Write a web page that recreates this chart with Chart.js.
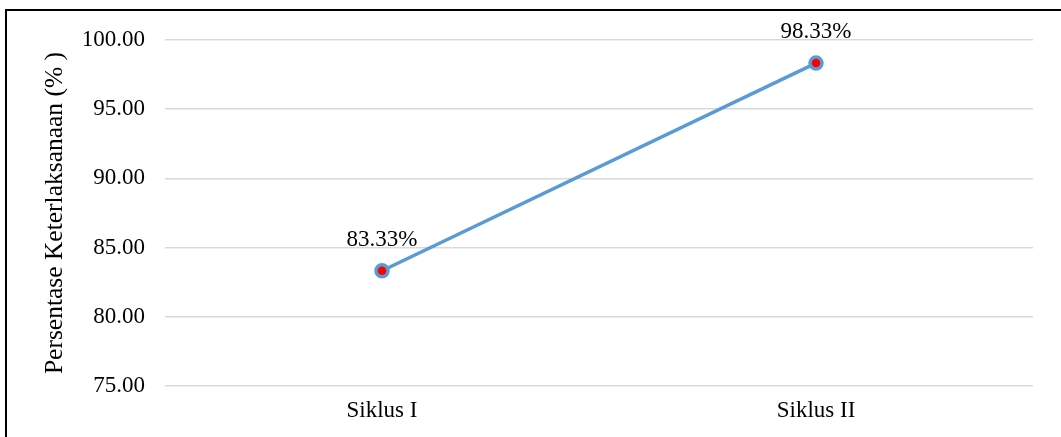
<!DOCTYPE html>
<html>
<head>
<meta charset="utf-8">
<script src="https://cdn.jsdelivr.net/npm/chart.js@4/dist/chart.umd.min.js"></script>
<style>
  html, body { margin: 0; padding: 0; background: #fff; overflow: hidden; }
  #wrap { position: relative; width: 1061px; height: 437px; }
  #frame { position: absolute; left: 5px; top: 9px; width: 1100px; height: 500px;
           border-top: 2px solid #000; border-left: 2px solid #000; pointer-events: none; }
  canvas { position: absolute; left: 0; top: 0; }
</style>
</head>
<body>
<div id="wrap">
  <canvas id="grafico" width="1061" height="437"></canvas>
  <div id="frame"></div>
</div>
<script>
// Data
const kategori = ['Siklus I', 'Siklus II'];
const nilai = [83.33, 98.33];
const yMin = 75, yMax = 100, yStep = 5;
const judulY = 'Persentase Keterlaksanaan (% )';

const fonte = '"Liberation Serif", "Times New Roman", serif';

// Label di atas titik
const labelTitik = {
  id: 'labelTitik',
  afterDatasetsDraw(chart) {
    const ctx = chart.ctx;
    const meta = chart.getDatasetMeta(0);
    ctx.save();
    ctx.font = '23px ' + fonte;
    ctx.fillStyle = '#000';
    ctx.textAlign = 'center';
    ctx.textBaseline = 'middle';
    meta.data.forEach((p, i) => {
      ctx.fillText(nilai[i].toFixed(2) + '%', p.x, p.y - 31);
    });
    ctx.restore();
  }
};

new Chart(document.getElementById('grafico'), {
  type: 'line',
  data: {
    labels: kategori,
    datasets: [{
      data: nilai,
      borderColor: '#5B9BD5',
      borderWidth: 3.5,
      backgroundColor: '#FF0000',
      pointBackgroundColor: '#FF0000',
      pointBorderColor: '#5B9BD5',
      pointBorderWidth: 3.5,
      pointRadius: 6,
      tension: 0
    }]
  },
  options: {
    responsive: false,
    animation: false,
    layout: { padding: { left: 40, right: 28, top: 40, bottom: 0 } },
    plugins: { legend: { display: false }, tooltip: { enabled: false } },
    scales: {
      x: {
        offset: true,
        grid: { display: false, drawTicks: false },
        border: { display: false },
        ticks: { color: '#000', font: { family: fonte, size: 23 }, padding: 11 },
        afterFit(s) { s.height = 51; }
      },
      y: {
        min: yMin, max: yMax,
        grid: { color: '#d9d9d9', lineWidth: 1.5, drawTicks: false },
        border: { display: false },
        ticks: {
          stepSize: yStep, color: '#000', padding: 20,
          font: { family: fonte, size: 23 },
          callback: v => v.toFixed(2)
        },
        title: {
          display: true, text: judulY, color: '#000',
          font: { family: fonte, size: 25.5 }, padding: 0
        },
        afterFit(s) { s.width = 125; }
      }
    }
  },
  plugins: [labelTitik]
});
</script>
</body>
</html>
